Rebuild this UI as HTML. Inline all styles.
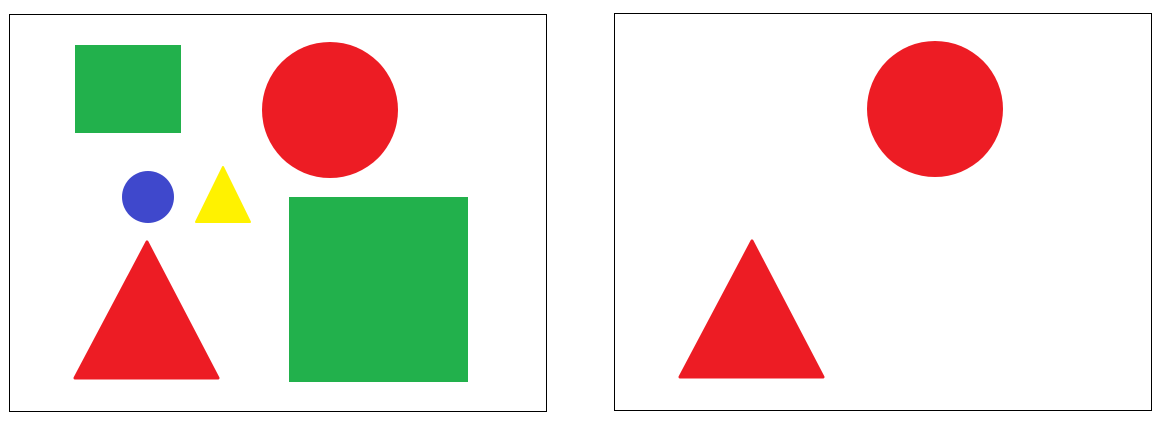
<!DOCTYPE html>
<html>
<head>
<meta charset="utf-8">
<style>
  html,body{margin:0;padding:0;background:#fff;width:1166px;height:428px;overflow:hidden;}
  svg{display:block;}
</style>
</head>
<body>
<svg width="1166" height="428" viewBox="0 0 1166 428">
  <g>
    <rect x="9.5" y="14.5" width="537" height="397" fill="#fff" stroke="#000" stroke-width="1"/>
    <rect x="75" y="45" width="106" height="88" fill="#22B14C"/>
    <circle cx="330" cy="110" r="68" fill="#ED1C24"/>
    <circle cx="148" cy="197" r="26" fill="#3F48CC"/>
    <polygon points="223,167 250,222 196,222" fill="#FFF200" stroke="#FFF200" stroke-width="2" stroke-linejoin="round"/>
    <polygon points="147,242 218,378 75,378" fill="#ED1C24" stroke="#ED1C24" stroke-width="3" stroke-linejoin="round"/>
    <rect x="289" y="197" width="179" height="185" fill="#22B14C"/>
  </g>
  <g>
    <rect x="614.5" y="13.5" width="537" height="397" fill="#fff" stroke="#000" stroke-width="1"/>
    <circle cx="935" cy="109" r="68" fill="#ED1C24"/>
    <polygon points="752,241 823,377 680,377" fill="#ED1C24" stroke="#ED1C24" stroke-width="3" stroke-linejoin="round"/>
  </g>
</svg>
</body>
</html>
